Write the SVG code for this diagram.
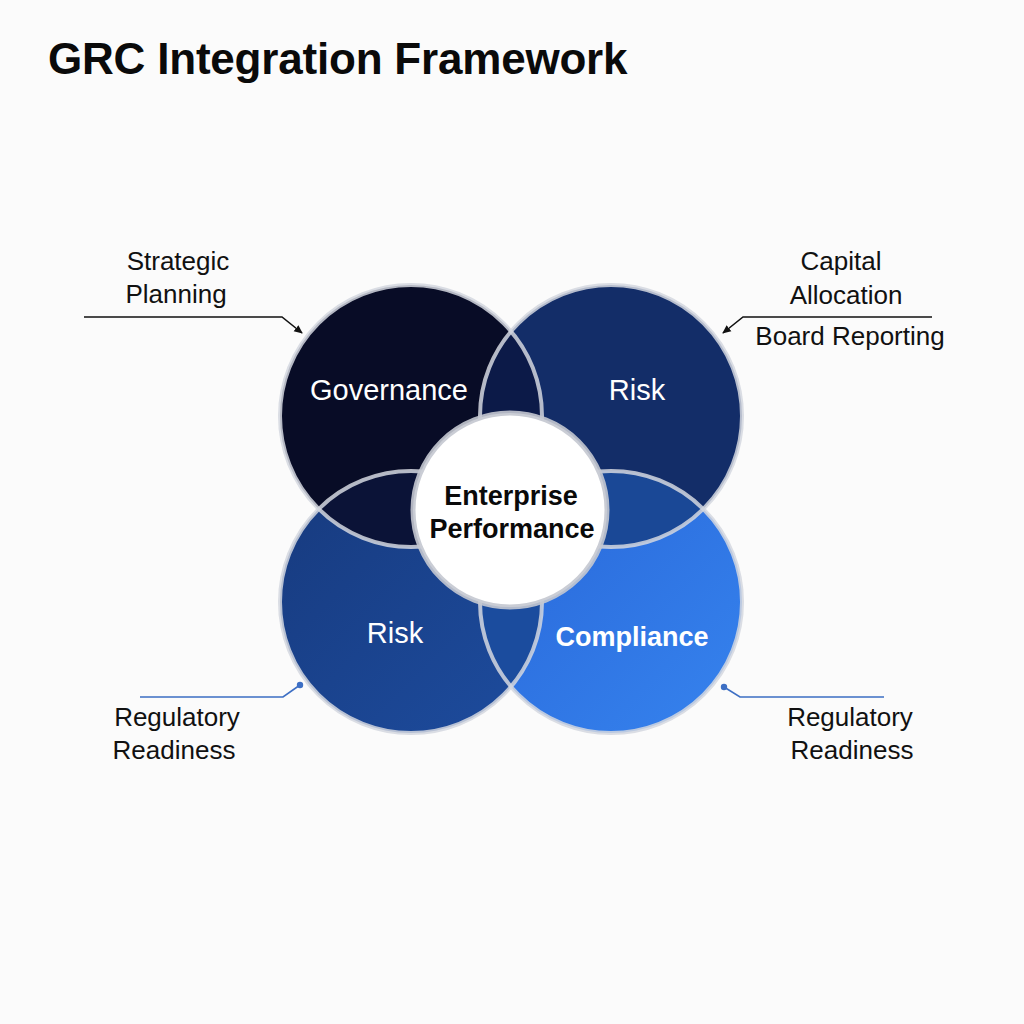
<svg xmlns="http://www.w3.org/2000/svg" width="1024" height="1024" viewBox="0 0 1024 1024">
<style>
.title{font-family:"Liberation Sans",Arial,sans-serif;font-weight:700;font-size:44px;fill:#0a0a0a;letter-spacing:-0.2px}
.lbl{font-family:"Liberation Sans",Arial,sans-serif;font-size:26px;fill:#111;text-anchor:middle}
.cl{font-family:"Liberation Sans",Arial,sans-serif;font-size:29px;fill:#fff;text-anchor:middle}
.ctr{font-family:"Liberation Sans",Arial,sans-serif;font-weight:700;font-size:27px;fill:#0a0a0a;text-anchor:middle}
.ring{fill:none;stroke:#d3d7df;stroke-width:4;stroke-opacity:0.85}
.lead{fill:none;stroke:#111;stroke-width:1.6}
.leadb{fill:none;stroke:#3d6fc4;stroke-width:1.6}
</style>
<defs>
<linearGradient id="gRiskBL" x1="0" y1="0" x2="1" y2="1">
<stop offset="0" stop-color="#173a7e"/><stop offset="1" stop-color="#1d4c9e"/>
</linearGradient>
<linearGradient id="gComp" x1="0" y1="0" x2="1" y2="1">
<stop offset="0" stop-color="#2866d8"/><stop offset="1" stop-color="#3683ee"/>
</linearGradient>
<clipPath id="cGov"><circle cx="411" cy="416" r="131"/></clipPath>
<clipPath id="cRiskT"><circle cx="611" cy="416" r="131"/></clipPath>
<clipPath id="cComp"><circle cx="611" cy="602" r="131"/></clipPath>
<marker id="ah" viewBox="0 0 10 10" refX="8" refY="5" markerWidth="6" markerHeight="6" orient="auto"><path d="M0,1 L9,5 L0,9 z" fill="#111"/></marker>
<marker id="dot" viewBox="0 0 10 10" refX="5" refY="5" markerWidth="5" markerHeight="5"><circle cx="5" cy="5" r="4" fill="#3d6fc4"/></marker>
</defs>
<rect width="1024" height="1024" fill="#fbfbfb"/>
<text class="title" x="48" y="74">GRC Integration Framework</text>

<g id="circles">
<g id="governance"><circle cx="411" cy="416" r="131" fill="#080c26"/></g>
<g id="risk-top"><circle cx="611" cy="416" r="131" fill="#132d68"/></g>
<g id="risk-bottom"><circle cx="411" cy="602" r="131" fill="url(#gRiskBL)"/></g>
<g id="compliance"><circle cx="611" cy="602" r="131" fill="url(#gComp)"/></g>
<g id="overlaps">
<circle cx="611" cy="416" r="131" fill="#0c1a48" clip-path="url(#cGov)"/>
<circle cx="411" cy="602" r="131" fill="#0b1337" clip-path="url(#cGov)"/>
<circle cx="611" cy="602" r="131" fill="#1a4896" clip-path="url(#cRiskT)"/>
<circle cx="411" cy="602" r="131" fill="#1b4c9e" clip-path="url(#cComp)"/>
</g>
<circle class="ring" cx="411" cy="416" r="131"/>
<circle class="ring" cx="611" cy="416" r="131"/>
<circle class="ring" cx="411" cy="602" r="131"/>
<circle class="ring" cx="611" cy="602" r="131"/>
<text class="cl" x="389" y="400">Governance</text>
<text class="cl" x="637" y="400">Risk</text>
<text class="cl" x="395" y="643">Risk</text>
<text class="cl" x="632" y="646" style="font-weight:700;font-size:27px">Compliance</text>
</g>

<g id="enterprise-performance">
<circle cx="510" cy="510" r="97" fill="#ffffff" stroke="#c4c8d0" stroke-width="5" stroke-opacity="0.9"/>
<text class="ctr" x="511" y="505">Enterprise</text>
<text class="ctr" x="512" y="538">Performance</text>
</g>

<g id="connectors">
<polyline class="lead" points="84,317 282,317 302,333" marker-end="url(#ah)"/>
<polyline class="lead" points="932,317 743,317 723,333" marker-end="url(#ah)"/>
<polyline class="leadb" points="140,697 283,697 300,685" marker-end="url(#dot)"/>
<polyline class="leadb" points="884,697 740,697 724,687" marker-end="url(#dot)"/>
</g>

<g id="labels">
<text class="lbl" x="178" y="270">Strategic</text>
<text class="lbl" x="176" y="303">Planning</text>
<text class="lbl" x="841" y="270">Capital</text>
<text class="lbl" x="846" y="304">Allocation</text>
<text class="lbl" x="850" y="345">Board Reporting</text>
<text class="lbl" x="177" y="726">Regulatory</text>
<text class="lbl" x="174" y="759">Readiness</text>
<text class="lbl" x="850" y="726">Regulatory</text>
<text class="lbl" x="852" y="759">Readiness</text>
</g>
</svg>
